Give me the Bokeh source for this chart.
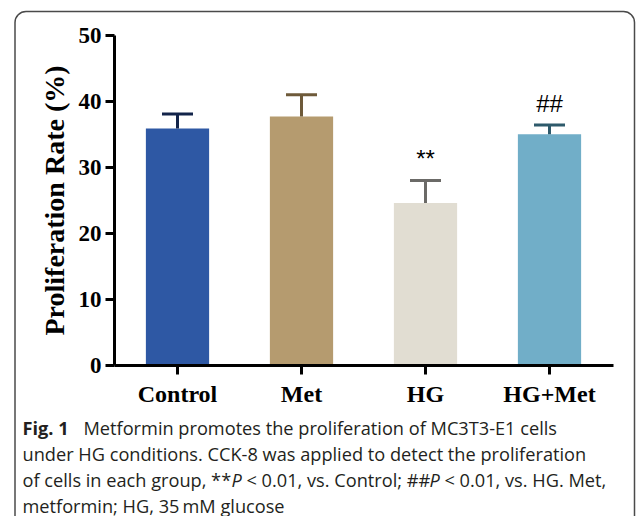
from bokeh.plotting import figure
from bokeh.models import LinearAxis, FixedTicker, Label
from bokeh.core.properties import value
from bokeh.embed import file_html
from bokeh.resources import INLINE

# ---------------- data ----------------
categories = ["Control", "Met", "HG", "HG+Met"]
rates = [35.9, 37.7, 24.6, 35.0]
sd = [2.2, 3.3, 3.4, 1.4]
marks = ["", "", "**", "##"]
y_ticks = [0, 10, 20, 30, 40, 50]
y_label = "Proliferation Rate (%)"

caption_bold = "Fig. 1"
caption_l1 = "Metformin promotes the proliferation of MC3T3-E1 cells"
caption_l2 = "under HG conditions. CCK-8 was applied to detect the proliferation"
caption_l3 = ["of cells in each group, **", "P", "< 0.01, vs. Control; ##", "P", "< 0.01, vs. HG. Met,"]
caption_l4 = "metformin; HG, 35\u2009mM glucose"

# ---------------- styles ----------------
bar_colors = ["#2e58a4", "#b59b6f", "#e1ddd2", "#71aec8"]
err_colors = ["#13244a", "#6e5a3a", "#6b6a67", "#2e5a6b"]
text_col = "#231f20"
serif = "Liberation Serif"

W, H = 636, 516
X0_PX = 177.0     # px of first category centre
STEP_PX = 124.0   # px per category
Y0_PX = 364.5     # px of y = 0
UNIT_PX = 6.59    # px per y unit


def dx(px):
    return (px - X0_PX) / STEP_PX


def dy(py):
    return (Y0_PX - py) / UNIT_PX


p = figure(width=W, height=H,
           x_range=(dx(0), dx(W)), y_range=(dy(H), dy(0)),
           x_axis_type=None, y_axis_type=None,
           output_backend="svg", toolbar_location=None, min_border=0)
p.outline_line_color = None
p.background_fill_color = "white"
p.border_fill_color = "white"

xs = list(range(len(categories)))
upper = [r + s for r, s in zip(rates, sd)]

# frame border
p.quad(left=[dx(14.5)], right=[dx(634)], top=[dy(11)], bottom=[dy(620)],
       fill_color=None, line_color="#4a4a4a", line_width=1.5, border_radius=11)

# bars
p.vbar(x=xs, top=rates, bottom=0, width=0.51, fill_color=bar_colors, line_color=None)

# error bars (upper only)
p.segment(x0=xs, y0=rates, x1=xs, y1=upper, line_color=err_colors, line_width=3)
p.segment(x0=[x - 0.125 for x in xs], y0=upper, x1=[x + 0.125 for x in xs], y1=upper,
          line_color=err_colors, line_width=3)

# significance marks
p.text(x=xs, y=[u + 3.3 for u in upper], text=marks, text_align="center",
       text_baseline="alphabetic", text_font=value("Liberation Sans"),
       text_font_size="24px", text_color="black")

# axes
yaxis = LinearAxis(fixed_location=dx(114), bounds=(0, 50),
                   ticker=FixedTicker(ticks=y_ticks), axis_label=y_label)
p.add_layout(yaxis, "left")
xaxis = LinearAxis(fixed_location=0, bounds=(dx(114), dx(613)),
                   ticker=FixedTicker(ticks=xs),
                   major_label_overrides={i: c for i, c in enumerate(categories)})
p.add_layout(xaxis, "below")

for ax in (yaxis, xaxis):
    ax.axis_line_width = 3
    ax.axis_line_color = "black"
    ax.major_tick_line_width = 3
    ax.major_tick_line_color = "black"
    ax.major_tick_out = 9
    ax.major_tick_in = 0
    ax.minor_tick_line_color = None
    ax.major_label_text_font = serif
    ax.major_label_text_font_style = "bold"
    ax.major_label_text_color = "black"

yaxis.major_label_text_font_size = "23px"
yaxis.major_label_standoff = 4
yaxis.axis_label_text_font = serif
yaxis.axis_label_text_font_style = "bold"
yaxis.axis_label_text_font_size = "28px"
yaxis.axis_label_text_color = "black"
yaxis.axis_label_standoff = 6

xaxis.major_label_text_font_size = "24px"
xaxis.major_label_standoff = 7

# caption
cap_font = "Open Sans"
cap_size = "18.2px"
x_left = 22
base = [427, 453, 479, 505]


def lab(xpx, ypx, text, style="normal"):
    p.add_layout(Label(x=dx(xpx), y=dy(ypx), text=text, text_font=cap_font,
                       text_font_size=cap_size, text_font_style=style,
                       text_color=text_col, text_baseline="alphabetic",
                       text_align="left"))


lab(x_left, base[0], caption_bold, "bold")
lab(83, base[0], caption_l1)
lab(x_left, base[1], caption_l2)
l3_x = [x_left, 231, 246, 429, 444]
l3_style = ["normal", "italic", "normal", "italic", "normal"]
for xp, t, st in zip(l3_x, caption_l3, l3_style):
    lab(xp, base[2], t, st)
lab(x_left, base[3], caption_l4)

open("out.html", "w").write(file_html(p, INLINE))
